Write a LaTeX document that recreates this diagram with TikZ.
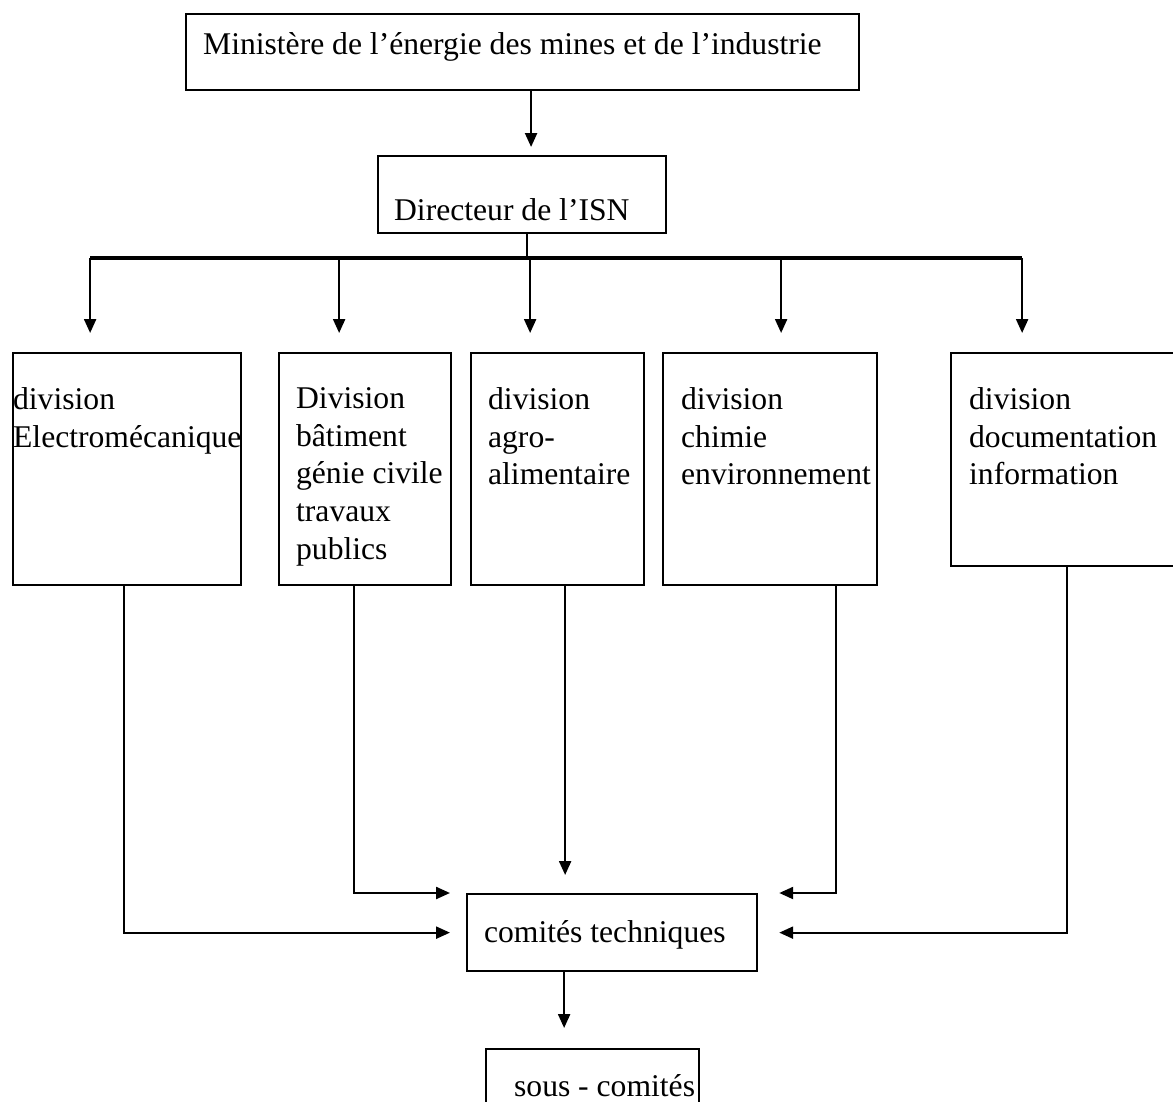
\documentclass[tikz,border=0pt]{standalone}
\usepackage{fontspec}
\setmainfont{Liberation Serif}
\usetikzlibrary{arrows.meta,positioning,calc}

\newcommand\boxtext[5]{\parbox[c][#1][t]{#2}{\raggedright\leftskip=#3\relax
  \hyphenpenalty=10000\exhyphenpenalty=10000\vspace*{#4}#5\par}}

\begin{document}
\begin{tikzpicture}[x=0.02cm,y=-0.02cm,
	orgbox/.style={draw,line width=1.3pt,inner sep=0pt,anchor=north west,font=\fontsize{18}{21.6}\selectfont},
	link/.style={line width=1.3pt},
	arrowline/.style={line width=1.3pt,-{Triangle[length=0.28cm,width=0.24cm]}}]
	\useasboundingbox (0,0) rectangle (1173,1102);
	\clip (0,0) rectangle (1173,1102);
	\node[orgbox] (minis) at (185,13) {\boxtext{1.52cm}{13.46cm}{0.34cm}{0.36cm}{Ministère de l’énergie des mines et de l’industrie}};
	\node[orgbox] (dir) at (377,155) {\boxtext{1.54cm}{5.76cm}{0.32cm}{0.84cm}{Directeur de l’ISN}};
	\node[orgbox] (elec) at (12,352) {\boxtext{4.64cm}{4.56cm}{0cm}{0.68cm}{division\\Electromécanique}};
	\node[orgbox] (btp) at (278,352) {\boxtext{4.64cm}{3.44cm}{0.34cm}{0.68cm}{Division\\bâtiment\\génie civile\\travaux\\publics}};
	\node[orgbox] (agro) at (470,352) {\boxtext{4.64cm}{3.46cm}{0.34cm}{0.68cm}{division\\agro-\\alimentaire}};
	\node[orgbox] (chimie) at (662,352) {\boxtext{4.64cm}{4.28cm}{0.36cm}{0.68cm}{division\\chimie\\environnement}};
	\node[orgbox] (doc) at (950,352) {\boxtext{4.26cm}{4.8cm}{0.36cm}{0.68cm}{division\\documentation\\information}};
	\node[orgbox] (comite) at (466,893) {\boxtext{1.54cm}{5.8cm}{0.34cm}{0.52cm}{comités techniques}};
	\node[orgbox] (sous) at (485,1048) {\boxtext{2cm}{4.26cm}{0.56cm}{0.5cm}{sous - comités}};
	% ministere -> directeur -> divisions
	\draw[arrowline,shorten >=0.16cm] ([xshift=0.17cm]minis.south) -- ([xshift=0.17cm]minis.south |- dir.north);
	\coordinate (bus) at (527,258);
	\draw[link] (dir.south -| bus) -- (bus);
	\draw[link,line width=2.4pt] ([xshift=-0.74cm]elec.north |- bus) -- ([xshift=-0.98cm]doc.north |- bus);
	\draw[arrowline,shorten >=0.38cm] ([xshift=-0.74cm]elec.north |- bus) -- ([xshift=-0.74cm]elec.north);
	\draw[arrowline,shorten >=0.38cm] ([xshift=-0.52cm]btp.north |- bus) -- ([xshift=-0.52cm]btp.north);
	\draw[arrowline,shorten >=0.38cm] ([xshift=-0.55cm]agro.north |- bus) -- ([xshift=-0.55cm]agro.north);
	\draw[arrowline,shorten >=0.38cm] ([xshift=0.22cm]chimie.north |- bus) -- ([xshift=0.22cm]chimie.north);
	\draw[arrowline,shorten >=0.38cm] ([xshift=-0.98cm]doc.north |- bus) -- ([xshift=-0.98cm]doc.north);
	% divisions -> comites
	\draw[arrowline,shorten >=0.32cm] ([xshift=-0.06cm]elec.south) |- (comite.west);
	\draw[arrowline,shorten >=0.32cm] ([xshift=-0.22cm]btp.south) |- (comite.north west);
	\draw[arrowline,shorten >=0.36cm] ([xshift=0.15cm]agro.south) -- ([xshift=0.15cm]agro.south |- comite.north);
	\draw[arrowline,shorten >=0.42cm] ([xshift=1.32cm]chimie.south) |- (comite.north east);
	\draw[arrowline,shorten >=0.42cm] ([xshift=-0.08cm]doc.south) |- (comite.east);
	\draw[arrowline,shorten >=0.4cm] ([xshift=-0.96cm]comite.south) -- ([xshift=-0.96cm]comite.south |- sous.north);
\end{tikzpicture}
\end{document}
